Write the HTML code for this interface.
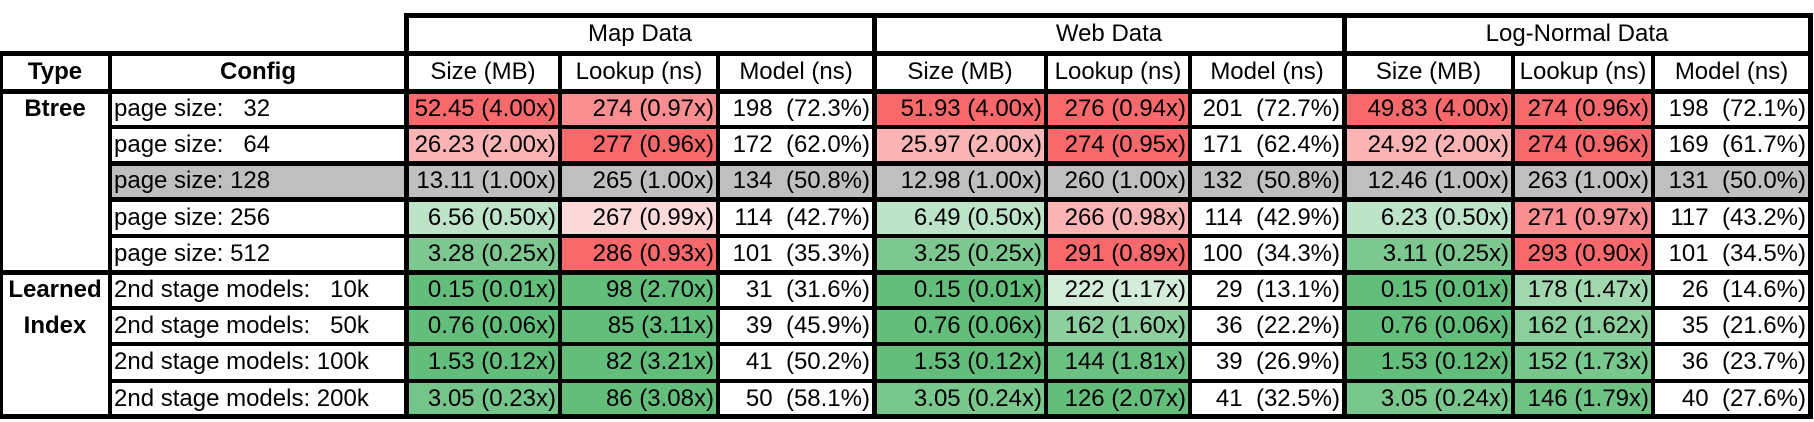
<!DOCTYPE html>
<html><head><meta charset="utf-8">
<style>
body{margin:0;width:1814px;height:422px;background:#fff;position:relative;overflow:hidden;font-family:"Liberation Sans",Arial,sans-serif;}
.c{position:absolute;box-sizing:border-box;display:flex;align-items:center;font-size:24px;color:#000;white-space:pre;}
.l{position:absolute;background:#000;}
</style></head><body>
<div id="tbl"></div>
<script>
// data
const datasets=["Map Data","Web Data","Log-Normal Data"];
const subHeads=["Size (MB)","Lookup (ns)","Model (ns)"];
const configs=["page size:   32","page size:   64","page size: 128","page size: 256","page size: 512","2nd stage models:   10k","2nd stage models:   50k","2nd stage models: 100k","2nd stage models: 200k"];
const sizeVals=[["52.45","26.23","13.11","6.56","3.28","0.15","0.76","1.53","3.05"],["51.93","25.97","12.98","6.49","3.25","0.15","0.76","1.53","3.05"],["49.83","24.92","12.46","6.23","3.11","0.15","0.76","1.53","3.05"]];
const sizeRatio=[[4.00,2.00,1.00,0.50,0.25,0.01,0.06,0.12,0.23],[4.00,2.00,1.00,0.50,0.25,0.01,0.06,0.12,0.24],[4.00,2.00,1.00,0.50,0.25,0.01,0.06,0.12,0.24]];
const lookVals=[[274,277,265,267,286,98,85,82,86],[276,274,260,266,291,222,162,144,126],[274,274,263,271,293,178,162,152,146]];
const lookRatio=[[0.97,0.96,1.00,0.99,0.93,2.70,3.11,3.21,3.08],[0.94,0.95,1.00,0.98,0.89,1.17,1.60,1.81,2.07],[0.96,0.96,1.00,0.97,0.90,1.47,1.62,1.73,1.79]];
const modelVals=[[198,172,134,114,101,31,39,41,50],[201,171,132,114,100,29,36,39,41],[198,169,131,117,101,26,35,36,40]];
const modelPct=["72.3","62.0","50.8","42.7","35.3","31.6","45.9","50.2","58.1","72.7","62.4","50.8","42.9","34.3","13.1","22.2","26.9","32.5","72.1","61.7","50.0","43.2","34.5","14.6","21.6","23.7","27.6"];

const X=[0,110,406,560,718,874,1046,1190,1344,1513,1653,1810];
const Y0=15,Y1=53,Y2=91,RH=36.2;
const root=document.getElementById('tbl');
function mix(c,t){const w=[255,255,255];return 'rgb('+c.map((v,i)=>Math.round(w[i]+(v-w[i])*t)).join(',')+')';}
const RED=[248,105,107],GREEN=[99,190,123];
function sizeColor(r){if(r>1)return mix(RED,Math.min(1,Math.log2(r)/2));if(r<1)return mix(GREEN,Math.min(1,-Math.log2(r)*0.42));return '#fff';}
function lookColor(r){if(r<1)return mix(RED,Math.min(1,(1-r)/0.04));if(r>1)return mix(GREEN,Math.min(1,(r-1)/0.95+0.1));return '#fff';}
function cell(x0,x1,y0,y1,txt,opt){const d=document.createElement('div');d.className='c';
 d.style.left=x0+'px';d.style.top=y0+'px';d.style.width=(x1-x0)+'px';d.style.height=(y1-y0)+'px';
 d.style.justifyContent=opt.align||'center';if(opt.bg)d.style.background=opt.bg;if(opt.bold)d.style.fontWeight='bold';
 d.style.padding='0 4px';d.textContent=txt;root.appendChild(d);return d;}
function hline(x0,x1,y,t){const d=document.createElement('div');d.className='l';
 
 
 d.style.left=(x0-t/2)+'px';d.style.width=(x1-x0+t)+'px';d.style.top=(y-t/2)+'px';d.style.height=t+'px';root.appendChild(d);}
function vline(x,y0,y1,t){const d=document.createElement('div');d.className='l';
 
 
 d.style.left=(x-t/2)+'px';d.style.width=t+'px';d.style.top=(y0-t/2)+'px';d.style.height=(y1-y0+t)+'px';root.appendChild(d);}
const rowY=i=>Y2+RH*i;
// headers
datasets.forEach((n,k)=>{const d=cell(X[2+3*k],X[5+3*k],Y0,Y1,n,{});
 
 
 subHeads.forEach((s,j)=>{const e=cell(X[2+3*k+j],X[3+3*k+j],Y1,Y2,s,{});
  
  });});
let h=cell(X[0],X[1],Y1,Y2,'Type',{bold:true});


h=cell(X[1],X[2],Y1,Y2,'Config',{bold:true});


h=cell(X[0],X[1],rowY(0),rowY(1),'Btree',{bold:true});


h=cell(X[0],X[1],rowY(5),rowY(6),'Learned',{bold:true});


h=cell(X[0],X[1],rowY(6),rowY(7),'Index',{bold:true});


configs.forEach((c,i)=>{const gray=i===2;
 const d=cell(X[1],X[2],rowY(i),rowY(i+1),c,{align:'flex-start',bg:gray?'#bfbfbf':null});
 
 
 for(let k=0;k<3;k++){
  const a=cell(X[2+3*k],X[3+3*k],rowY(i),rowY(i+1),sizeVals[k][i]+' ('+sizeRatio[k][i].toFixed(2)+'x)',{align:'flex-end',bg:gray?'#bfbfbf':sizeColor(sizeRatio[k][i])});
  
  
  const b=cell(X[3+3*k],X[4+3*k],rowY(i),rowY(i+1),lookVals[k][i]+' ('+lookRatio[k][i].toFixed(2)+'x)',{align:'flex-end',bg:gray?'#bfbfbf':lookColor(lookRatio[k][i])});
  
  
  const m=cell(X[4+3*k],X[5+3*k],rowY(i),rowY(i+1),modelVals[k][i]+'  ('+modelPct[k*9+i]+'%)',{align:'flex-end',bg:gray?'#bfbfbf':null});
  
  
 }});
// grid lines
const T=4;
hline(X[2],X[11],Y0,5);
[2,5,8,11].forEach(i=>vline(X[i],Y0,Y1,5));
hline(X[0],X[11],Y1,5);
hline(X[0],X[11],Y2,5);
X.forEach((x,i)=>vline(x,Y1,rowY(9),(i===0||i===2||i===5||i===8||i===11)?5:T));
for(let i=1;i<9;i++){ if(i===5)hline(X[0],X[11],rowY(i),5); else hline(X[1],X[11],rowY(i),(i===2||i===3)?5:T);}
hline(X[0],X[11],rowY(9),5);
</script>
</body></html>
